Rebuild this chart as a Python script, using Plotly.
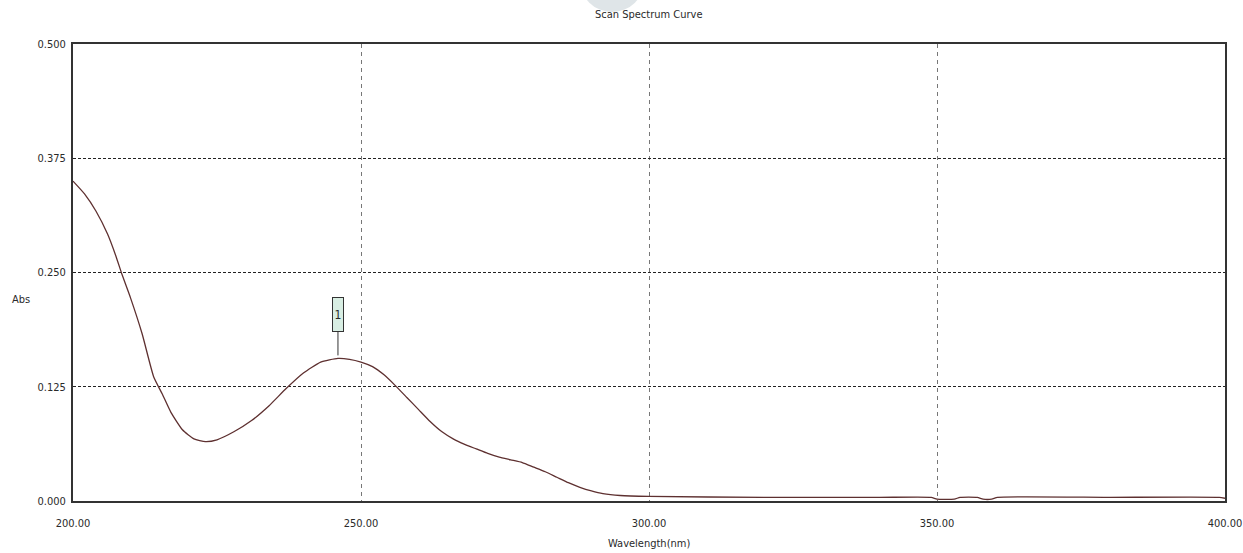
import plotly.graph_objects as go

# Absorbance scan, 200-400 nm
wavelength_nm = [200, 202, 204, 206, 207.5, 208.5, 210, 212, 214, 215.5, 217, 219, 221, 223,
                 225, 228, 231, 234, 237, 240, 243, 246, 248, 250, 252, 254, 256, 258, 260,
                 262, 264, 266, 268, 270, 272, 274, 276, 278, 280, 282, 284, 286, 288, 290,
                 292, 295, 300, 320, 340, 349, 350, 353, 354, 357, 358, 359.5, 360.5, 380,
                 399, 400]
absorbance = [0.350, 0.336, 0.317, 0.292, 0.267, 0.248, 0.222, 0.183, 0.136, 0.117, 0.097,
              0.078, 0.068, 0.065, 0.067, 0.076, 0.088, 0.104, 0.123, 0.140, 0.152, 0.156,
              0.155, 0.152, 0.147, 0.138, 0.126, 0.113, 0.100, 0.087, 0.076, 0.068, 0.062,
              0.057, 0.052, 0.048, 0.045, 0.042, 0.037, 0.032, 0.026, 0.020, 0.015, 0.011,
              0.008, 0.006, 0.005, 0.004, 0.004, 0.004, 0.002, 0.002, 0.004, 0.004, 0.002,
              0.002, 0.004, 0.004, 0.004, 0.003]

# Peak marker
peak_label = "1"
peak_wavelength = 246
peak_abs = 0.156

x_ticks = [200, 250, 300, 350, 400]
y_ticks = [0.0, 0.125, 0.25, 0.375, 0.5]

FONT = "DejaVu Sans Condensed, Liberation Sans Narrow, Arial Narrow, sans-serif"
TXT = "#2a2a2a"
FS = 11

fig = go.Figure()
fig.add_trace(go.Scatter(
    x=wavelength_nm, y=absorbance, mode="lines",
    line=dict(color="#5e3030", width=1.3, shape="spline", smoothing=0.5),
    hoverinfo="x+y", showlegend=False,
))

fig.update_layout(
    width=1243, height=553,
    margin=dict(l=73, r=18, t=44, b=52, autoexpand=False),
    paper_bgcolor="white", plot_bgcolor="white",
    font=dict(family=FONT, size=FS, color=TXT),
    xaxis=dict(
        range=[200, 400], tickvals=x_ticks, tickformat=".2f",
        showgrid=True, gridcolor="#777", griddash="4px,4px", gridwidth=1,
        showline=True, linecolor="#333", linewidth=2, mirror=True,
        ticks="", ticklabelstandoff=11, zeroline=False,
        ticklabeloverflow="allow", automargin=False,
        tickfont=dict(family=FONT, size=FS, color=TXT),
    ),
    yaxis=dict(
        range=[0, 0.5], tickvals=y_ticks, tickformat=".3f",
        showgrid=True, gridcolor="#222", griddash="3px,2px", gridwidth=1,
        showline=True, linecolor="#333", linewidth=2, mirror=True,
        ticks="", ticklabelstandoff=3, zeroline=False, automargin=False,
        tickfont=dict(family=FONT, size=FS, color=TXT),
    ),
    shapes=[dict(
        type="circle", xref="paper", yref="paper", layer="below",
        x0=0.440, x1=0.496, y0=1.07, y1=1.21,
        fillcolor="#dfe5e8", line=dict(width=0),
    )],
    annotations=[
        dict(text="Scan Spectrum Curve", xref="paper", yref="paper", x=0.5, y=1.065,
             xanchor="center", yanchor="middle", showarrow=False,
             font=dict(family=FONT, size=FS, color=TXT)),
        dict(text="Abs", xref="paper", yref="paper", x=-0.045, y=0.44,
             xanchor="center", yanchor="middle", showarrow=False,
             font=dict(family=FONT, size=FS, color=TXT)),
        dict(text="Wavelength(nm)", xref="paper", yref="paper", x=0.5, y=-0.094,
             xanchor="center", yanchor="middle", showarrow=False,
             font=dict(family=FONT, size=FS, color=TXT)),
        dict(text=peak_label, x=peak_wavelength, y=peak_abs, xref="x", yref="y",
             showarrow=True, arrowhead=0, arrowwidth=1, arrowcolor="#333",
             ax=0, ay=-44, standoff=3, width=8, height=31,
             bgcolor="#d8eee3", bordercolor="#333", borderwidth=1, borderpad=1,
             font=dict(family=FONT, size=12, color=TXT)),
    ],
)

fig.write_html("out.html")
